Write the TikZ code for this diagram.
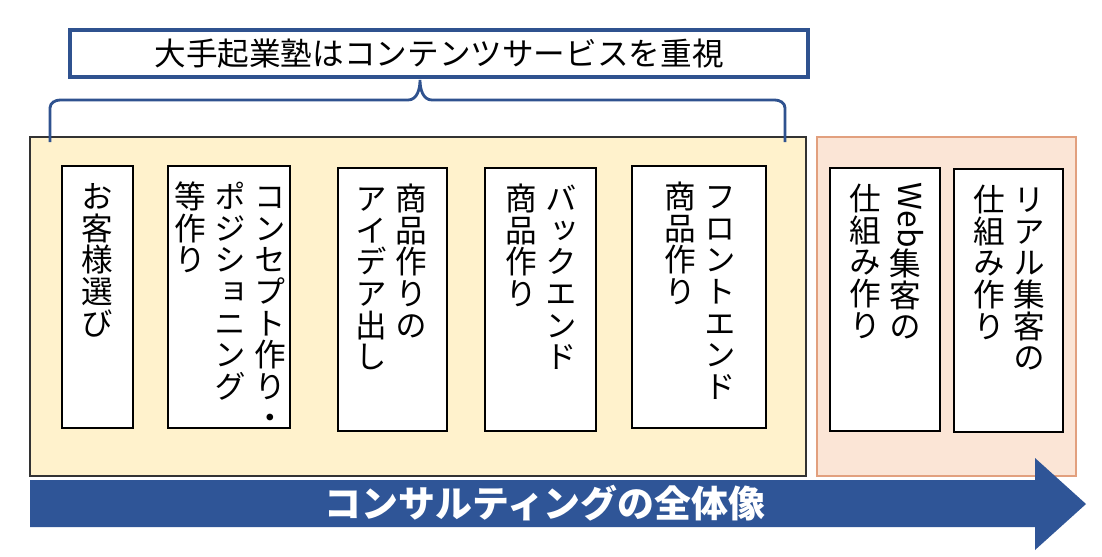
\documentclass[tikz,border=0pt]{standalone}
\usepackage{fontspec}
\usetikzlibrary{fit}
\newfontfamily\jpfont{Noto Sans CJK JP}
\newfontfamily\jptate{Noto Sans CJK JP}[RawFeature=vertical]
\definecolor{braceblue}{HTML}{2F528F}
\definecolor{arrowblue}{HTML}{2F5597}
\definecolor{beige}{HTML}{FFF2CC}
\definecolor{peach}{HTML}{FBE5D6}
\definecolor{peachline}{HTML}{E2A07E}
\tikzset{
  card/.style={draw=black, line width=0.7pt, fill=white, inner sep=0pt},
  tate/.style={rotate=-90, anchor=west, align=left, inner sep=0pt,
    font=\jptate\fontsize{18}{22.8}\selectfont},
  titlebox/.style={draw=braceblue, line width=1.8pt, fill=white, inner sep=0pt,
    font=\jpfont\fontsize{18}{22}\selectfont},
}
\begin{document}
\begin{tikzpicture}[x=0.02cm, y=-0.02cm]
\useasboundingbox (0,0) rectangle (1102,556);
\fill[white] (0,0) rectangle (1102,556);

\draw[fill=beige, draw=black!80, line width=0.6pt] (30,137) rectangle (806,476);
\draw[fill=peach, draw=peachline, line width=0.6pt] (817,137) rectangle (1076,476);

\node[card, fit={(62,166) (133,428)}] (K1) {};
\node[card, fit={(168,166) (290,428)}] (K2) {};
\node[card, fit={(338,168) (447,431)}] (K3) {};
\node[card, fit={(485,168) (596,431)}] (K4) {};
\node[card, fit={(632,166) (766,428)}] (K5) {};
\node[card, fit={(830,168) (940,431)}] (K6) {};
\node[card, fit={(954,169) (1063,432)}] (K7) {};

\node[tate] at ([xshift=0.24cm, yshift=-0.3cm]K1.north) {お客様選び};
\node[tate] at ([xshift=0.26cm, yshift=-0.3cm]K2.north) {コンセプト作り・\\ポジショニング\\等作り};
\node[tate] at ([xshift=0.22cm, yshift=-0.3cm]K3.north) {商品作りの\\アイデア出し};
\node[tate] at ([xshift=0.24cm, yshift=-0.3cm]K4.north) {バックエンド\\商品作り};
\node[tate] at ([xshift=0.24cm, yshift=-0.3cm]K5.north) {フロントエンド\\商品作り};
\node[tate] at ([xshift=0.24cm, yshift=-0.3cm]K6.north) {\raisebox{-0.2em}{\jpfont Web}集客の\\仕組み作り};
\node[tate] at ([xshift=0.26cm, yshift=-0.3cm]K7.north) {リアル集客の\\仕組み作り};

\fill[arrowblue] (30,480) -- (1035,480) -- (1035,458) -- (1086,504) -- (1035,550) -- (1035,527) -- (30,527) -- cycle;
\node[text=white, font=\jpfont\bfseries\fontsize{21}{25}\selectfont] (Z) at (545,503) {コンサルティングの全体像};

\coordinate (L) at (50,142);
\coordinate (P) at (420,80);
\coordinate (R) at (785,142);
\draw[braceblue, line width=1.6pt] (L) -- (50,108) to[out=90,in=180] (60,100) -- (408,100)
  to[out=0,in=-90] (P) to[out=-90,in=180] (432,100) -- (775,100) to[out=0,in=90] (785,108) -- (R);

\node[titlebox, fit={(70,30) (808,77)}] (T) {};
\node[font=\jpfont\fontsize{18}{22}\selectfont] at (T.center) {大手起業塾はコンテンツサービスを重視};
\end{tikzpicture}
\end{document}
